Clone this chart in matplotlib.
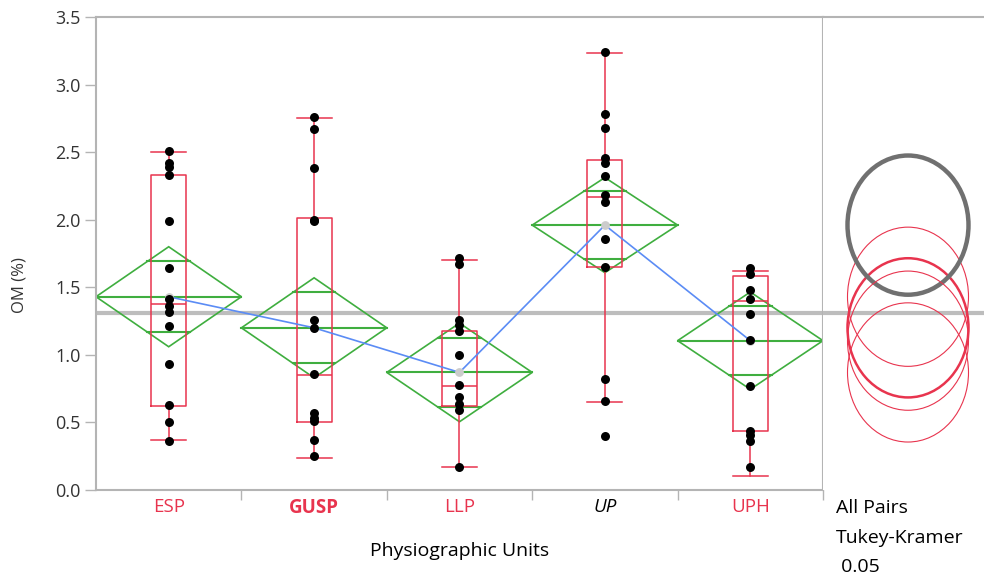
import numpy as np
import matplotlib
matplotlib.use("Agg")
import matplotlib.pyplot as plt
from matplotlib.patches import Polygon, Ellipse

plt.rcParams['font.family'] = ['Open Sans', 'DejaVu Sans']

# ---------- DATA ----------
groups = ["ESP", "GUSP", "LLP", "UP", "UPH"]

esp = [2.51, 2.42, 2.39, 2.33, 1.99, 1.64, 1.41, 1.36, 1.32, 1.21, 0.93, 0.63, 0.50, 0.36]
gusp = [2.76, 2.67, 2.38, 2.00, 1.99, 1.26, 1.20, 0.86, 0.57, 0.53, 0.51, 0.37, 0.25]
llp = [1.72, 1.67, 1.26, 1.22, 1.18, 1.00, 0.78, 0.69, 0.64, 0.59, 0.17]
up = [3.24, 2.78, 2.68, 2.46, 2.42, 2.32, 2.18, 2.13, 1.86, 1.65, 0.82, 0.66, 0.40]
uph = [1.64, 1.60, 1.48, 1.41, 1.30, 1.11, 0.77, 0.44, 0.41, 0.36, 0.17]
points = [esp, gusp, llp, up, uph]

# quantile box stats
q1 = [0.62, 0.50, 0.62, 1.65, 0.44]
median = [1.38, 0.85, 0.77, 2.17, 1.40]
q3 = [2.33, 2.01, 1.18, 2.44, 1.58]
whis_lo = [0.37, 0.24, 0.17, 0.65, 0.10]
whis_hi = [2.50, 2.75, 1.70, 3.23, 1.62]

# means diamonds (mean and 95% CI half width)
means = [1.43, 1.20, 0.87, 1.96, 1.105]
ci_half = [0.37, 0.37, 0.365, 0.352, 0.36]
grand_mean = 1.31

# Tukey-Kramer comparison circle radius
circle_radius = 0.515

RED = "#e8344e"
GREEN = "#3fae3f"
BLUE = "#5b8cf5"
FRAME = "#b4b4b4"

# ---------- FIGURE / AXES ----------
W, H = 984, 579
fig = plt.figure(figsize=(W / 100, H / 100), dpi=100)
ax = fig.add_axes([96 / W, 1 - 490 / H, (823 - 96) / W, (490 - 17) / H])
ax2 = fig.add_axes([823 / W, 1 - 490 / H, (W - 823) / W, (490 - 17) / H])

x = np.arange(len(groups))

# grand mean line (both panels)
ax.axhline(grand_mean, color="#bdbdbd", lw=3, zorder=1)
ax2.axhline(grand_mean, color="#bdbdbd", lw=3, zorder=1)

# ---------- MEANS DIAMONDS ----------
for i in x:
    m, c = means[i], ci_half[i]
    diamond = Polygon([[i - 0.5, m], [i, m + c], [i + 0.5, m], [i, m - c]],
                      closed=True, fill=False, edgecolor=GREEN, lw=1.2, zorder=2)
    ax.add_patch(diamond)
    ax.plot([i - 0.5, i + 0.5], [m, m], color=GREEN, lw=1.5, zorder=2)
    # overlap marks
    d = c / np.sqrt(2)
    hw = 0.5 * (1 - 1 / np.sqrt(2))
    ax.plot([i - hw, i + hw], [m + d, m + d], color=GREEN, lw=1.5, zorder=2)
    ax.plot([i - hw, i + hw], [m - d, m - d], color=GREEN, lw=1.5, zorder=2)

# ---------- BOX PLOTS ----------
stats = []
for i in x:
    stats.append(dict(q1=q1[i], med=median[i], q3=q3[i],
                      whislo=whis_lo[i], whishi=whis_hi[i], fliers=[]))
ax.bxp(stats, positions=x, widths=0.24, showfliers=False, manage_ticks=False,
       boxprops=dict(color=RED, lw=1.1), medianprops=dict(color=RED, lw=1.1),
       whiskerprops=dict(color=RED, lw=1.1), capprops=dict(color=RED, lw=1.1),
       capwidths=0.24, zorder=3)

# line connecting means
ax.plot(x, means, color=BLUE, lw=1.2, zorder=4)
ax.scatter(x, means, s=40, color="#cccccc", zorder=4, linewidths=0)

# ---------- DATA POINTS ----------
for i in x:
    ax.scatter(np.full(len(points[i]), i), points[i], s=42, color="black",
               linewidths=0, zorder=5)

# ---------- AXES STYLE ----------
ax.set_xlim(-0.5, 4.5)
ax.set_ylim(0, 3.5)
ax.set_yticks(np.arange(0, 3.51, 0.5))
ax.set_yticklabels([f"{v:.1f}" for v in np.arange(0, 3.51, 0.5)], fontsize=13, color="#333333")
ax.tick_params(axis="y", length=8, width=1, color=FRAME, pad=3)
ax.set_xticks(x)
ax.set_xticklabels(groups, fontsize=13.5)
ax.tick_params(axis="x", which="major", length=0, pad=6)
ax.set_xticks(np.arange(0.5, 4.6, 1), minor=True)
ax.tick_params(axis="x", which="minor", length=7, width=1, color=FRAME)
for lbl, name in zip(ax.get_xticklabels(), groups):
    if name == "UP":
        lbl.set_color("black")
        lbl.set_style("italic")
    else:
        lbl.set_color(RED)
    if name == "GUSP":
        lbl.set_fontweight("bold")
for sp in ax.spines.values():
    sp.set_color(FRAME)
    sp.set_linewidth(1.5)

ax.set_xlabel("Physiographic Units", fontsize=14, labelpad=17)
fig.text(20 / W, 1 - 285 / H, "OM (%)", rotation=90, fontsize=12, color="#333333",
         ha="center", va="center")

# ---------- COMPARISON CIRCLES ----------
ax2.set_xlim(0, W - 823)
ax2.set_ylim(0, 3.5)
for i in x:
    if groups[i] == "UP":
        col, lw = "#707070", 3.2
    elif groups[i] == "GUSP":
        col, lw = RED, 1.8
    else:
        col, lw = RED, 0.8
    ax2.add_patch(Ellipse((85, means[i]), 121, 2 * circle_radius, fill=False,
                          edgecolor=col, lw=lw, zorder=3))
ax2.set_xticks([])
ax2.set_yticks([])
for side in ["left", "right", "bottom"]:
    ax2.spines[side].set_visible(False)
ax2.spines["top"].set_color(FRAME)
ax2.spines["top"].set_linewidth(1.5)

fig.text(836 / W, 1 - 508 / H, "All Pairs", fontsize=14, va="center")
fig.text(836 / W, 1 - 538 / H, "Tukey-Kramer", fontsize=14, va="center")
fig.text(836 / W, 1 - 567 / H, " 0.05", fontsize=14, va="center")

fig.savefig("out.png", dpi=100)
